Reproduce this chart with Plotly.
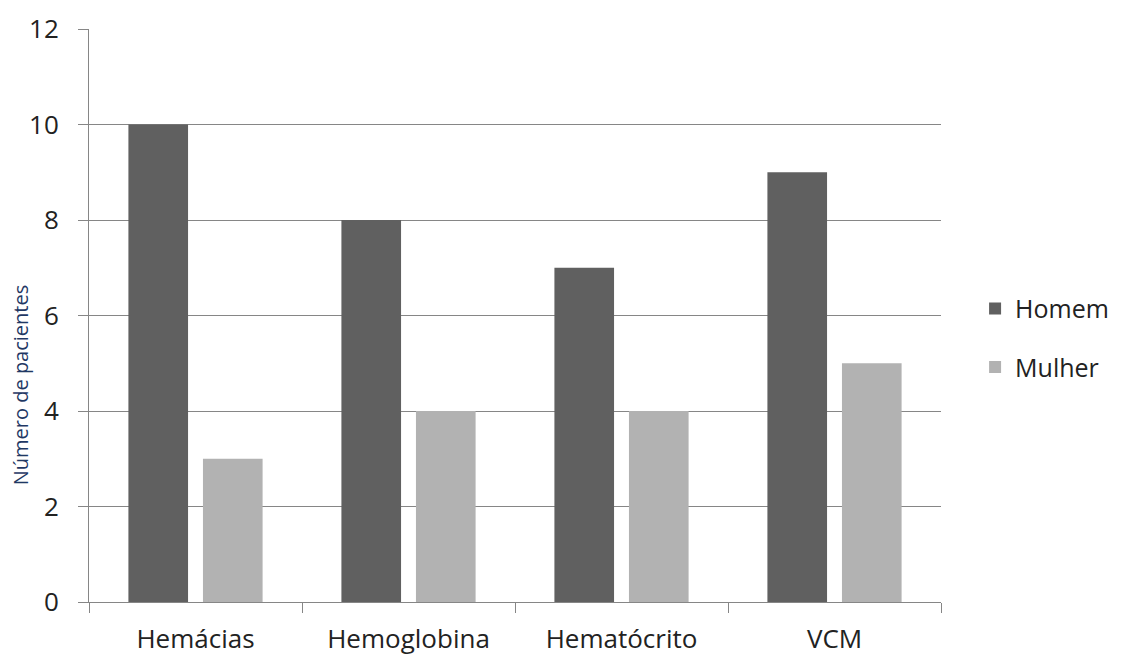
import plotly.graph_objects as go

categories = ["Hemácias", "Hemoglobina", "Hematócrito", "VCM"]
homem = [10, 8, 7, 9]
mulher = [3, 4, 4, 5]
y_ticks = [0, 2, 4, 6, 8, 10, 12]
y_title = "Número de pacientes"

FONT = "'Open Sans', sans-serif"

fig = go.Figure()
fig.add_trace(go.Bar(name="Homem", x=categories, y=homem, marker_color="#606060",
                     marker_line_width=0, legendgroup="h"))
fig.add_trace(go.Bar(name="Mulher", x=categories, y=mulher, marker_color="#b2b2b2",
                     marker_line_width=0, legendgroup="m"))

# page body has an 8px margin, so the figure is offset by 8px
fig.update_layout(
    width=1113, height=649,
    margin=dict(l=81, r=180, t=21, b=55, autoexpand=False),
    paper_bgcolor="white", plot_bgcolor="white",
    barmode="group", bargap=0.30, bargroupgap=0.2,
    font=dict(family=FONT, size=26, color="#222222"),
    legend=dict(x=1.040, y=0.461, xanchor="left", yanchor="middle",
                traceorder="grouped", tracegroupgap=23,
                font=dict(size=25, color="#222222")),
    showlegend=True,
)
fig.update_xaxes(
    showline=True, linecolor="#868686", linewidth=1,
    ticks="outside", tickson="boundaries", ticklen=10, tickcolor="#868686",
    showgrid=False, tickfont=dict(size=26), ticklabelstandoff=14, automargin=False,
)
fig.update_yaxes(
    range=[0, 12], tickvals=y_ticks, showline=True, linecolor="#868686", linewidth=1,
    ticks="outside", ticklen=10, tickcolor="#868686",
    showgrid=True, gridcolor="#868686", gridwidth=1, zeroline=False,
    tickfont=dict(size=26), ticklabelstandoff=14, automargin=False,
)
fig.add_annotation(
    text=y_title, textangle=-90, xref="paper", yref="paper",
    x=-0.081, y=0.38, xanchor="center", yanchor="middle", showarrow=False,
    font=dict(size=20, color="#1f3864"),
)

fig.write_html("out.html")
